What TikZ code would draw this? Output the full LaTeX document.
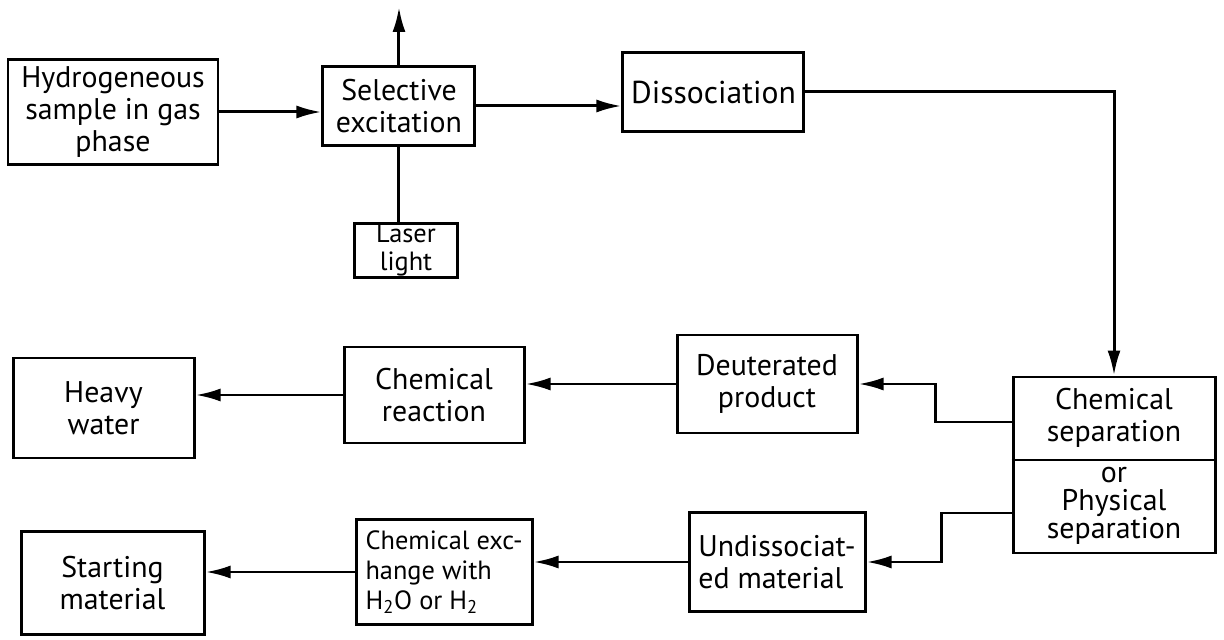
\documentclass[tikz,border=0pt]{standalone}
\usepackage{fontspec}
\setmainfont{PT Sans}
\usetikzlibrary{positioning,arrows.meta,calc}

\begin{document}
\begin{tikzpicture}[auto, node distance=3cm,
    >={Latex[length=5mm,width=2.6mm]},
    line width=1.7pt,
    block/.style={draw, align=center, inner sep=2pt,
        font=\fontsize{17}{18}\selectfont}]
    \useasboundingbox (0,0) rectangle (24.48,-12.8);
    % Feed
    \node [block,
        minimum width=4.2cm,
        minimum height=2.1cm
    ]  (Sample) at (2.26,-2.24) {Hydrogeneous\\sample in gas\\phase};
    \node [block,
        minimum width=3.04cm,
        minimum height=1.58cm,
        right=2.04cm of Sample, yshift=0.12cm
    ]  (Excitation) {Selective\\excitation};
    \node [block,
        minimum width=3.62cm,
        minimum height=1.58cm,
        font=\fontsize{18}{20}\selectfont,
        right=2.9cm of Excitation, yshift=0.28cm
    ]  (Dissociation) {Dissociation};
    \node [block,
        minimum width=2.06cm,
        minimum height=1cm,
        inner sep=0.5pt,
        font=\fontsize{15}{16}\selectfont,
        below=1.5cm of Excitation, xshift=0.14cm
    ]  (Laser) {Laser\\light};
    \coordinate [above=1.16cm of Excitation] (Outlet);
    % Separation
    \node [draw,
        minimum width=4.04cm,
        minimum height=3.52cm
    ]  (Separation) at (22.28,-9.3) {};
    \draw (Separation.west |- {$(Separation.center)+(0,0.1)$})
        -- (Separation.east |- {$(Separation.center)+(0,0.1)$});
    \node [align=center, font=\fontsize{17}{18}\selectfont]
        (SepChem) at ($(Separation.center)+(0,0.94)$) {Chemical\\separation};
    \node [align=center, font=\fontsize{17}{16}\selectfont]
        (SepPhys) at ($(Separation.center)+(0,-0.82)$) {or\\Physical\\separation};
    % Deuterated branch
    \node [block,
        minimum width=3.6cm,
        minimum height=1.96cm,
        left=3.06cm of Separation, yshift=1.62cm
    ]  (Deuterated) {Deuterated\\product};
    \node [block,
        minimum width=3.6cm,
        minimum height=1.92cm,
        left=3.0cm of Deuterated, yshift=-0.22cm
    ]  (Reaction) {Chemical\\reaction};
    \node [block,
        minimum width=3.62cm,
        minimum height=2cm,
        left=2.94cm of Reaction, yshift=-0.26cm
    ]  (HeavyWater) {Heavy\\water};
    % Undissociated branch
    \node [block,
        minimum width=3.52cm,
        minimum height=1.98cm,
        align=left,
        left=2.9cm of Separation, yshift=-1.94cm
    ]  (Undissociated) {Undissociat-\\ed material};
    \node [block,
        minimum width=3.52cm,
        minimum height=2.1cm,
        align=left,
        font=\fontsize{15}{17}\selectfont,
        left=3.08cm of Undissociated, yshift=-0.2cm
    ]  (Exchange) {Chemical exc-\\hange with\\H\textsubscript{2}O or H\textsubscript{2}};
    \node [block,
        minimum width=3.66cm,
        minimum height=2.06cm,
        left=2.98cm of Exchange, yshift=-0.22cm
    ]  (Starting) {Starting\\material};

    \draw[->] (Sample.east) -- (Sample.east -| Excitation.west);
    \draw[->] (Excitation.east) -- (Excitation.east -| Dissociation.west);
    \draw[->] (Excitation.north) -- (Outlet);
    \draw (Excitation.south) -- (Excitation.south |- Laser.north);
    \draw[->] (Dissociation.east) -| (Separation.north);
    \draw[->] ([yshift=0.86cm]Separation.west) -- ++(-1.52cm,0) |- (Deuterated.east);
    \draw[->] ([yshift=-0.96cm]Separation.west) -- ++(-1.4cm,0) |- (Undissociated.east);
    \draw[->] (Deuterated.west) -- (Deuterated.west -| Reaction.east);
    \draw[->] (Reaction.west) -- (Reaction.west -| HeavyWater.east);
    \draw[->] (Undissociated.west) -- (Undissociated.west -| Exchange.east);
    \draw[->] (Exchange.west) -- (Exchange.west -| Starting.east);
\end{tikzpicture}
\end{document}
